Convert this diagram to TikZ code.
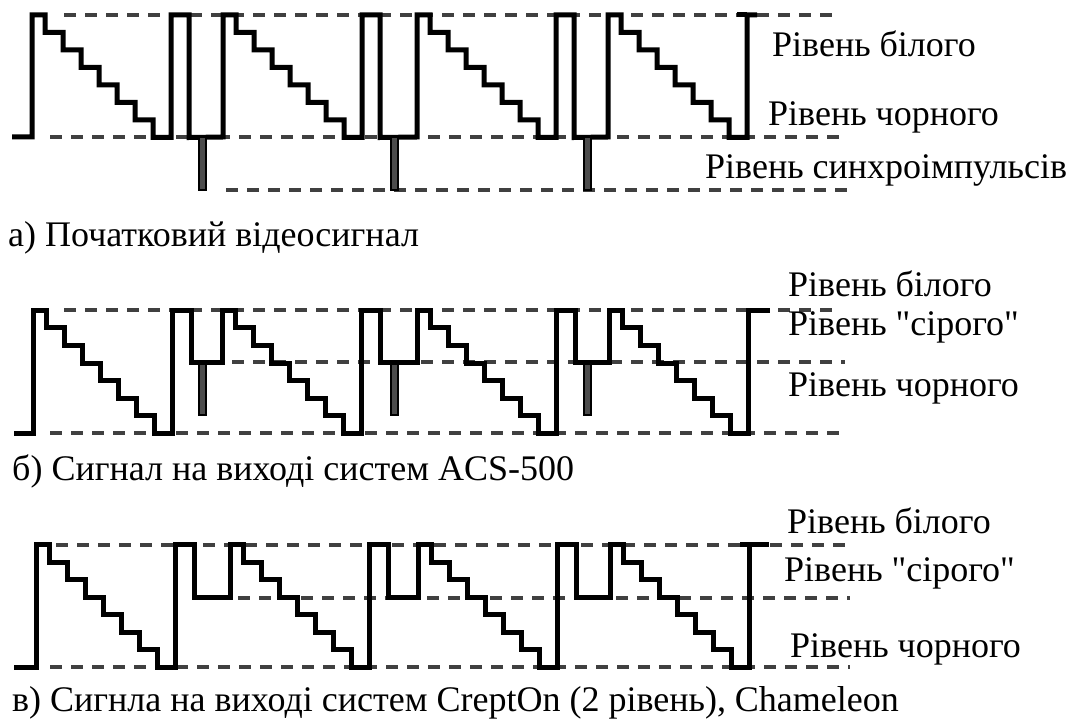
\documentclass[tikz,border=0pt]{standalone}
\usepackage{fontspec}
\setmainfont{Liberation Serif}[Ligatures=TeXOff]
\newcommand\stairs{-- ++(13,0) -- ++(0,17.5) -- ++(18,0) -- ++(0,17.5) -- ++(18,0) -- ++(0,17.5) -- ++(18,0) -- ++(0,17.5) -- ++(18,0) -- ++(0,17.5) -- ++(18,0) -- ++(0,17.5) -- ++(18,0) -- ++(0,17.5) -- ++(18,0)}
\tikzset{
  wave/.style={line width=5pt, black, line join=miter},
  lvl/.style={line width=4pt, black!75, dash pattern=on 12pt off 9pt},
  sync/.style={line width=2.5pt, draw=black, fill=black!70},
  lbl/.style={anchor=base west, inner sep=0pt, font=\fontsize{36}{40}\selectfont},
  captxt/.style={anchor=base west, inner sep=0pt, font=\fontsize{36}{40}\selectfont},
}
\begin{document}
\begin{tikzpicture}[x=1pt,y=-1pt]
\useasboundingbox (0,0) rectangle (1088,722);
\fill[white] (0,0) rectangle (1088,722);

% ---------- panel a ----------
\draw[lvl] (64,15) -- (840,15);
\draw[lvl] (50,137) -- (840,137);
\draw[lvl] (226,190) -- (850,190);
\draw[wave] (12,137) -- (32,137) -- (32,15) \stairs
  -- ++(0,-122.5) -- ++(18,0) -- ++(0,122.5) -- (223,137) -- (223,15) \stairs
  -- ++(0,-122.5) -- ++(18,0) -- ++(0,122.5) -- (417,137) -- (417,15) \stairs
  -- ++(0,-122.5) -- ++(18,0) -- ++(0,122.5) -- (608,137) -- (608,15) \stairs
  -- ++(0,-122.5) -- ++(10,0);
\draw[wave] (737,15) -- (747,15);
\draw[sync] (199,137) rectangle (206,190);
\draw[sync] (391,137) rectangle (398,190);
\draw[sync] (584,137) rectangle (591,190);
\node[lbl] (a1) at (772,57) {Рівень білого};
\node[lbl] (a2) at (768,126) {Рівень чорного};
\node[lbl] (a3) at (705,179) {Рівень синхроімпульсів};
\node[captxt] (ac) at (8,247) {а) Початковий відеосигнал};

% ---------- panel b ----------
\draw[lvl] (64,310) -- (840,310);
\draw[lvl] (232,362) -- (845,362);
\draw[lvl] (50,433) -- (840,433);
\draw[sync] (199,362) rectangle (206,415);
\draw[sync] (391,362) rectangle (398,415);
\draw[sync] (584,362) rectangle (591,415);
\draw[wave] (14,433) -- (33,433) -- (33,310.5) \stairs
  -- ++(0,-122.5) -- ++(19,0) -- ++(0,52) -- (222,362.5) -- (222,310.5) \stairs
  -- ++(0,-122.5) -- ++(19,0) -- ++(0,52) -- (417,362.5) -- (417,310.5) \stairs
  -- ++(0,-122.5) -- ++(19,0) -- ++(0,52) -- (609,362.5) -- (609,310.5) \stairs
  -- ++(0,-122.5) -- ++(22,0);
\node[lbl] (b1) at (788,297) {Рівень білого};
\node[lbl] (b2) at (788,335) {Рівень "сірого"};
\node[lbl] (b3) at (788,396) {Рівень чорного};
\node[captxt] (bc) at (12,480) {б) Сигнал на виході систем ACS-500};

% ---------- panel c ----------
\draw[lvl] (56,545) -- (845,545);
\draw[lvl] (238,598) -- (850,598);
\draw[lvl] (50,667) -- (850,667);
\draw[wave] (14,667) -- (36,667) -- (36,544.5) \stairs
  -- ++(0,-122.5) -- ++(19,0) -- ++(0,53) -- (230,597.5) -- (230,544.5) \stairs
  -- ++(0,-122.5) -- ++(19,0) -- ++(0,53) -- (418,597.5) -- (418,544.5) \stairs
  -- ++(0,-122.5) -- ++(19,0) -- ++(0,53) -- (610,597.5) -- (610,544.5) \stairs
  -- ++(0,-122.5) -- ++(20,0);
\draw[wave] (740,544.5) -- (750,544.5);
\node[lbl] (c1) at (787,533) {Рівень білого};
\node[lbl] (c2) at (784,581) {Рівень "сірого"};
\node[lbl] (c3) at (790,657) {Рівень чорного};
\node[captxt] (cc) at (12,711) {в) Сигнла на виході систем CreptOn (2 рівень), Chameleon};
\end{tikzpicture}
\end{document}
